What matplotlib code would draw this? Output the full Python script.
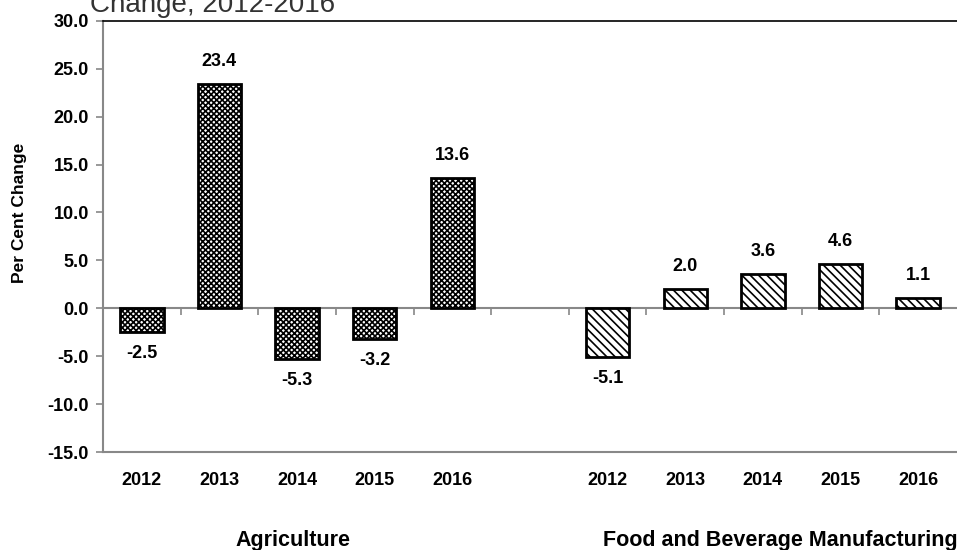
import numpy as np
import matplotlib.pyplot as plt
from matplotlib import transforms

plt.rcParams['font.family'] = ['Liberation Sans', 'DejaVu Sans']
plt.rcParams['hatch.linewidth'] = 1.2

years = ['2012', '2013', '2014', '2015', '2016']
groups = ['Agriculture', 'Food and Beverage Manufacturing']
agri = [-2.5, 23.4, -5.3, -3.2, 13.6]
food = [-5.1, 2.0, 3.6, 4.6, 1.1]

fig = plt.figure(figsize=(9.57, 5.5), dpi=100)
ax = fig.add_axes([0.1076, 0.178, 0.8924, 0.7842])

# 5 slots, one empty slot, 5 slots
x_agri = np.arange(5)
x_food = np.arange(6, 11)

ax.bar(x_agri, agri, width=0.56, color='white', edgecolor='black',
       hatch='xxxxxx', linewidth=2, zorder=3)
ax.bar(x_food, food, width=0.56, color='white', edgecolor='black',
       hatch='\\\\\\\\', linewidth=2, zorder=3)

for xs, vals in [(x_agri, agri), (x_food, food)]:
    for x, v in zip(xs, vals):
        if v >= 0:
            ax.annotate(f'{v:.1f}', (x, v), xytext=(0, 10), textcoords='offset points',
                        ha='center', va='bottom', fontsize=13, fontweight='bold')
        else:
            ax.annotate(f'{v:.1f}', (x, v), xytext=(0, -9), textcoords='offset points',
                        ha='center', va='top', fontsize=13, fontweight='bold')

ax.set_xlim(-0.5, 10.5)
ax.set_ylim(-15, 30)
ax.set_yticks(np.arange(-15, 31, 5))
ax.set_yticklabels([f'{t:.1f}' for t in np.arange(-15, 31, 5)],
                   fontsize=13, fontweight='bold')
ax.tick_params(axis='y', length=5, color='#888888', width=1.2, pad=5)

ax.set_xticks(list(x_agri) + list(x_food))
ax.set_xticklabels(years + years, fontsize=13, fontweight='bold')
ax.tick_params(axis='x', length=0, pad=14)

ax.spines['left'].set_color('#888888')
ax.spines['left'].set_linewidth(1.5)
ax.spines['bottom'].set_color('#888888')
ax.spines['bottom'].set_linewidth(1.5)
ax.spines['top'].set_color('black')
ax.spines['top'].set_linewidth(1.2)
ax.spines['right'].set_visible(False)

# zero line with tick marks between categories
zero = ax.secondary_xaxis(15 / 45)
zero.set_xticks(np.arange(0.5, 10.5, 1))
zero.set_xticklabels([])
zero.tick_params(length=5, color='#888888', width=1.2, direction='out')
zero.spines['bottom'].set_color('#888888')
zero.spines['bottom'].set_linewidth(1.5)

fig.text(0.02, 1 - 213 / 550, 'Per Cent Change', rotation=90, fontsize=12.5,
         fontweight='bold', ha='center', va='center')

trans = transforms.blended_transform_factory(ax.transData, fig.transFigure)
ax.text(1.95, 1 - 546 / 550, groups[0], transform=trans, ha='center', va='baseline',
        fontsize=15.5, fontweight='bold')
ax.text(8.22, 1 - 546 / 550, groups[1], transform=trans, ha='center', va='baseline',
        fontsize=15.5, fontweight='bold')

# title is partly cut off at the top edge, as in the original
fig.text(0.094, 1 - 12 / 550, 'Change, 2012-2016', fontsize=20, color='#333333',
         ha='left', va='baseline')

fig.savefig('out.png', dpi=100)
